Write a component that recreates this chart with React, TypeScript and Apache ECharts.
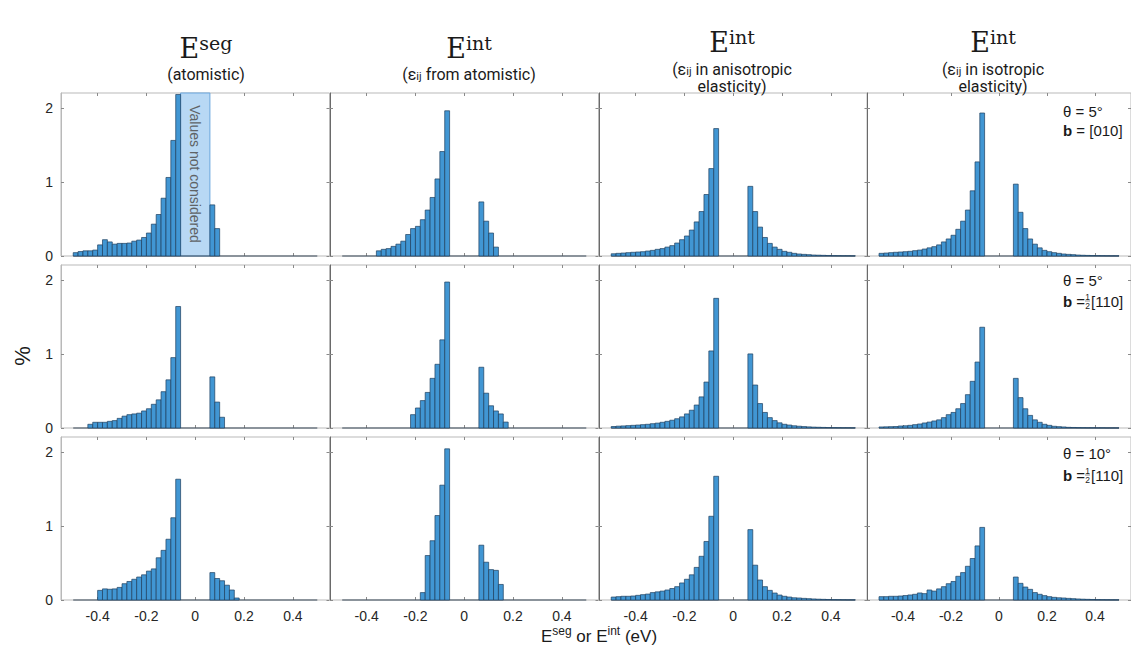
import React, { useEffect, useRef } from "react";
import * as echarts from "echarts";

// ---------- data (bin width 0.02 eV, values in %) ----------
const BIN = 0.02;
const RIGHT_START = 0.06;
const HIST_RANGE = [-0.5, 0.5];
const xTickValues = [-0.4, -0.2, 0, 0.2, 0.4];
const yTickValues = [0, 1, 2];
const excludedRange = [-0.06, 0.06];

const colTitles = ["E^seg", "E^int", "E^int", "E^int"];
const colSubtitles = [
  ["(atomistic)"],
  ["(ε_ij from atomistic)"],
  ["(ε_ij in anisotropic", "elasticity)"],
  ["(ε_ij in isotropic", "elasticity)"],
];
const rowThetas = ["θ = 5°", "θ = 5°", "θ = 10°"];
const rowBurgers = ["[010]", "[110]", "[110]"];
const rowBurgersHalf = [false, true, true];

// Row 1 : θ = 5°, b = [010]
const r1c1Start = -0.5;
const r1c1L = [0.045, 0.06, 0.07, 0.07, 0.08, 0.15, 0.22, 0.19, 0.16, 0.17, 0.17, 0.175, 0.2, 0.215, 0.25, 0.31, 0.43, 0.56, 0.78, 1.06, 1.56, 2.18];
const r1c1R = [0.69, 0.37];
const r1c2Start = -0.36;
const r1c2L = [0.07, 0.09, 0.1, 0.13, 0.16, 0.2, 0.29, 0.37, 0.4, 0.49, 0.62, 0.79, 1.04, 1.41, 1.96];
const r1c2R = [0.73, 0.47, 0.31, 0.12];
const r1c3Start = -0.5;
const r1c3L = [0.03, 0.036, 0.04, 0.045, 0.05, 0.054, 0.058, 0.067, 0.076, 0.09, 0.1, 0.12, 0.14, 0.175, 0.22, 0.27, 0.35, 0.46, 0.6, 0.83, 1.18, 1.72];
const r1c3R = [0.94, 0.6, 0.39, 0.25, 0.17, 0.12, 0.09, 0.063, 0.05, 0.036, 0.027, 0.022, 0.018, 0.013, 0.011, 0.009, 0.007, 0.005, 0.004, 0.003, 0.003, 0.002];
const r1c4Start = -0.5;
const r1c4L = [0.036, 0.04, 0.045, 0.05, 0.054, 0.058, 0.063, 0.072, 0.08, 0.094, 0.11, 0.126, 0.15, 0.19, 0.23, 0.28, 0.36, 0.47, 0.62, 0.88, 1.27, 1.93];
const r1c4R = [0.97, 0.59, 0.37, 0.23, 0.16, 0.11, 0.076, 0.058, 0.045, 0.036, 0.027, 0.022, 0.018, 0.013, 0.01, 0.008, 0.006, 0.005, 0.004, 0.003, 0.002, 0.002];

// Row 2 : θ = 5°, b = ½[110]
const r2c1Start = -0.44;
const r2c1L = [0.05, 0.077, 0.077, 0.077, 0.09, 0.1, 0.13, 0.16, 0.18, 0.19, 0.2, 0.23, 0.26, 0.32, 0.38, 0.49, 0.65, 0.95, 1.64];
const r2c1R = [0.69, 0.35, 0.145];
const r2c2Start = -0.22;
const r2c2L = [0.18, 0.27, 0.37, 0.48, 0.67, 0.86, 1.19, 1.97];
const r2c2R = [0.82, 0.47, 0.3, 0.23, 0.19, 0.08];
const r2c3Start = -0.5;
const r2c3L = [0.02, 0.025, 0.028, 0.032, 0.036, 0.04, 0.045, 0.05, 0.058, 0.066, 0.077, 0.09, 0.105, 0.125, 0.15, 0.19, 0.24, 0.31, 0.42, 0.62, 1.04, 1.75];
const r2c3R = [1.0, 0.58, 0.33, 0.21, 0.14, 0.1, 0.07, 0.05, 0.04, 0.03, 0.024, 0.019, 0.015, 0.012, 0.01, 0.008, 0.006, 0.005, 0.004, 0.003, 0.003, 0.002];
const r2c4Start = -0.5;
const r2c4L = [0.014, 0.016, 0.018, 0.02, 0.027, 0.03, 0.036, 0.045, 0.054, 0.068, 0.08, 0.095, 0.11, 0.14, 0.18, 0.21, 0.26, 0.33, 0.45, 0.63, 0.89, 1.36];
const r2c4R = [0.67, 0.41, 0.26, 0.17, 0.11, 0.077, 0.05, 0.036, 0.023, 0.018, 0.014, 0.009, 0.007, 0.005, 0.004, 0.003, 0.003, 0.002, 0.002, 0.001, 0.001, 0.001];

// Row 3 : θ = 10°, b = ½[110]
const r3c1Start = -0.4;
const r3c1L = [0.13, 0.15, 0.145, 0.15, 0.17, 0.22, 0.25, 0.28, 0.31, 0.34, 0.39, 0.42, 0.57, 0.67, 0.82, 1.11, 1.63];
const r3c1R = [0.37, 0.29, 0.26, 0.2, 0.135, 0.027];
const r3c2Start = -0.18;
const r3c2L = [0.1, 0.6, 0.8, 1.14, 1.55, 2.04];
const r3c2R = [0.74, 0.51, 0.41, 0.4, 0.21];
const r3c3Start = -0.5;
const r3c3L = [0.04, 0.045, 0.05, 0.05, 0.054, 0.063, 0.072, 0.08, 0.1, 0.11, 0.12, 0.135, 0.155, 0.18, 0.23, 0.28, 0.34, 0.44, 0.59, 0.79, 1.13, 1.67];
const r3c3R = [0.95, 0.47, 0.27, 0.18, 0.13, 0.094, 0.067, 0.05, 0.04, 0.03, 0.027, 0.022, 0.018, 0.014, 0.011, 0.009, 0.007, 0.005, 0.004, 0.003, 0.002, 0.002];
const r3c4Start = -0.5;
const r3c4L = [0.045, 0.045, 0.05, 0.05, 0.054, 0.06, 0.068, 0.077, 0.095, 0.086, 0.135, 0.12, 0.15, 0.18, 0.22, 0.25, 0.32, 0.37, 0.455, 0.56, 0.73, 0.98];
const r3c4R = [0.31, 0.225, 0.175, 0.144, 0.1, 0.077, 0.059, 0.045, 0.036, 0.03, 0.027, 0.022, 0.018, 0.014, 0.011, 0.009, 0.007, 0.005, 0.004, 0.003, 0.002, 0.002];

const panels = [
  { start: r1c1Start, left: r1c1L, right: r1c1R },
  { start: r1c2Start, left: r1c2L, right: r1c2R },
  { start: r1c3Start, left: r1c3L, right: r1c3R },
  { start: r1c4Start, left: r1c4L, right: r1c4R },
  { start: r2c1Start, left: r2c1L, right: r2c1R },
  { start: r2c2Start, left: r2c2L, right: r2c2R },
  { start: r2c3Start, left: r2c3L, right: r2c3R },
  { start: r2c4Start, left: r2c4L, right: r2c4R },
  { start: r3c1Start, left: r3c1L, right: r3c1R },
  { start: r3c2Start, left: r3c2L, right: r3c2R },
  { start: r3c3Start, left: r3c3L, right: r3c3R },
  { start: r3c4Start, left: r3c4L, right: r3c4R },
];

// ---------- layout ----------
const COL_LEFT = [61, 330, 599, 867];
const ROW_TOP = [93, 265, 437];
const PW = 268.5;
const PH = 163;
const X_MIN = -0.55;
const X_MAX = 0.55;
const Y_MAX = 2.2;

const BAR_FILL = "#4196d3";
const BAR_EDGE = "#1e3f5f";
const SANS = "Liberation Sans";
const SERIF = "DejaVu Serif";

const r4 = (v: number) => Math.round(v * 10000) / 10000;

function buildItems(p: { start: number; left: number[]; right: number[] }) {
  const items: number[][] = [[HIST_RANGE[0], HIST_RANGE[1], 0]];
  p.left.forEach((v, i) => items.push([r4(p.start + i * BIN), r4(p.start + (i + 1) * BIN), v]));
  p.right.forEach((v, i) => items.push([r4(RIGHT_START + i * BIN), r4(RIGHT_START + (i + 1) * BIN), v]));
  return items;
}

function renderHist(params: any, api: any) {
  const x0 = api.value(0);
  const x1 = api.value(1);
  const h = api.value(2);
  const a = api.coord([x0, h]);
  const b = api.coord([x1, 0]);
  if (h === 0) {
    return {
      type: "line",
      shape: { x1: a[0], y1: b[1], x2: b[0], y2: b[1] },
      style: { stroke: "#3a4a5a", lineWidth: 1 },
    };
  }
  return {
    type: "rect",
    shape: { x: a[0], y: a[1], width: b[0] - a[0], height: b[1] - a[1] },
    style: { fill: BAR_FILL, stroke: BAR_EDGE, lineWidth: 0.7 },
  };
}

function renderBox(params: any, api: any) {
  const a = api.coord([api.value(0), api.value(2)]);
  const b = api.coord([api.value(1), 0]);
  return {
    type: "rect",
    shape: { x: a[0], y: a[1], width: b[0] - a[0], height: b[1] - a[1] },
    style: { fill: "#b8d8f4", stroke: "#6aa6dd", lineWidth: 1 },
  };
}

function txt(x: number, y: number, style: any, extra: any = {}) {
  return {
    type: "text",
    x,
    y,
    z: 100,
    style: {
      align: "center",
      verticalAlign: "middle",
      textAlign: "center",
      textVerticalAlign: "middle",
      fill: "#1a1a1a",
      ...style,
    },
    ...extra,
  };
}

function buildOption() {
  const grid: any[] = [];
  const xAxis: any[] = [];
  const yAxis: any[] = [];
  const series: any[] = [];
  const tickStyle = { color: "#8a8a8a", width: 1 };
  const labelStyle = { fontSize: 14, color: "#262626", fontFamily: SANS };

  panels.forEach((p, k) => {
    const r = Math.floor(k / 4);
    const c = k % 4;
    grid.push({
      left: COL_LEFT[c],
      top: ROW_TOP[r],
      width: PW,
      height: PH,
      show: true,
      borderColor: "#b9b9b9",
      borderWidth: 1,
      containLabel: false,
    });
    xAxis.push({
      gridIndex: k,
      type: "value",
      position: "bottom",
      min: X_MIN,
      max: X_MAX,
      axisLine: { show: false, onZero: false },
      axisTick: { show: true, inside: true, length: 3, customValues: xTickValues, lineStyle: tickStyle },
      axisLabel: { show: r === 2, customValues: xTickValues, margin: 9, ...labelStyle },
      splitLine: { show: false },
    });
    xAxis.push({
      gridIndex: k,
      type: "value",
      position: "top",
      min: X_MIN,
      max: X_MAX,
      axisLine: { show: false, onZero: false },
      axisTick: { show: true, inside: true, length: 3, customValues: xTickValues, lineStyle: tickStyle },
      axisLabel: { show: false },
      splitLine: { show: false },
    });
    yAxis.push({
      gridIndex: k,
      type: "value",
      position: "left",
      min: 0,
      max: Y_MAX,
      axisLine: { show: true, onZero: false, lineStyle: { color: c === 0 ? "#b9b9b9" : "#6a6a6a", width: 1 } },
      axisTick: { show: true, inside: true, length: 3, customValues: yTickValues, lineStyle: tickStyle },
      axisLabel: { show: c === 0, customValues: yTickValues, margin: 8, ...labelStyle },
      splitLine: { show: false },
    });
    yAxis.push({
      gridIndex: k,
      type: "value",
      position: "right",
      min: 0,
      max: Y_MAX,
      axisLine: { show: false, onZero: false },
      axisTick: { show: true, inside: true, length: 3, customValues: yTickValues, lineStyle: tickStyle },
      axisLabel: { show: false },
      splitLine: { show: false },
    });
    if (k === 0) {
      series.push({
        type: "custom",
        xAxisIndex: 0,
        yAxisIndex: 0,
        silent: true,
        z: 1,
        renderItem: renderBox,
        encode: { x: [0, 1], y: 2 },
        data: [[excludedRange[0], excludedRange[1], Y_MAX]],
      });
    }
    series.push({
      type: "custom",
      xAxisIndex: 2 * k,
      yAxisIndex: 2 * k,
      silent: true,
      z: 2,
      renderItem: renderHist,
      encode: { x: [0, 1], y: 2 },
      data: buildItems(p),
    });
  });

  const graphic: any[] = [];
  const titleX = [206, 469, 732, 993];
  const titleY = [48, 48, 42, 42];
  const subY = [[74], [74], [69, 86], [69, 86]];
  colTitles.forEach((t, c) => {
    const [base, sup] = t.split("^");
    graphic.push(
      txt(titleX[c], titleY[c], {
        text: `{e|${base}}{s|${sup}}`,
        rich: {
          e: { fontSize: 27, fontFamily: SERIF, lineHeight: 30, fill: "#1a1a1a" },
          s: { fontSize: 19, fontFamily: SERIF, lineHeight: 20, verticalAlign: "top", fill: "#1a1a1a" },
        },
      })
    );
    colSubtitles[c].forEach((line, li) => {
      const parts = line.split("_ij");
      const text = parts.length > 1 ? `{m|${parts[0]}}{sub|ij}{m|${parts[1]}}` : `{m|${line}}`;
      graphic.push(
        txt(titleX[c], subY[c][li], {
          text,
          rich: {
            m: { fontSize: 16, fontFamily: "Roboto", lineHeight: 15, fill: "#1a1a1a" },
            sub: { fontSize: 11, fontFamily: "Roboto", lineHeight: 6, verticalAlign: "bottom", fill: "#1a1a1a" },
          },
        })
      );
    });
  });

  // Values not considered label
  const x0px = COL_LEFT[0] + (PW * (0 - X_MIN)) / (X_MAX - X_MIN);
  graphic.push(
    txt(x0px, ROW_TOP[0] + 81, { text: "Values not considered", fontSize: 14, fontFamily: SANS, fill: "#5f6366" }, { rotation: -Math.PI / 2 })
  );

  // per-row annotation
  const thetaY = [111, 280, 453];
  const bY = [130, 301, 475];
  const annX = 1063;
  rowThetas.forEach((t, r) => {
    graphic.push(txt(annX, thetaY[r], { text: t, fontSize: 15, fontFamily: SANS, align: "left", textAlign: "left" }));
    if (!rowBurgersHalf[r]) {
      graphic.push(
        txt(annX, bY[r], {
          text: `{b|b} = ${rowBurgers[r]}`,
          fontSize: 15,
          fontFamily: SANS,
          align: "left",
          textAlign: "left",
          rich: { b: { fontSize: 15, fontFamily: SANS, fontWeight: "bold" } },
        })
      );
    } else {
      graphic.push(
        txt(annX, bY[r], {
          text: `{b|b} =`,
          fontSize: 15,
          fontFamily: SANS,
          align: "left",
          textAlign: "left",
          rich: { b: { fontSize: 15, fontFamily: SANS, fontWeight: "bold" } },
        })
      );
      graphic.push(txt(1087.5, bY[r] - 4.5, { text: "1", fontSize: 8.5, fontFamily: SANS }));
      graphic.push(txt(1087.5, bY[r] + 4.5, { text: "2", fontSize: 8.5, fontFamily: SANS }));
      graphic.push({
        type: "line",
        z: 100,
        shape: { x1: 1085, y1: bY[r], x2: 1090, y2: bY[r] },
        style: { stroke: "#444", lineWidth: 0.6 },
      });
      graphic.push(txt(1091, bY[r], { text: rowBurgers[r], fontSize: 15, fontFamily: SANS, align: "left", textAlign: "left" }));
    }
  });

  // axis titles
  graphic.push(txt(22, 356, { text: "%", fontSize: 22, fontFamily: SANS }, { rotation: Math.PI / 2 }));
  graphic.push(
    txt(599, 636, {
      text: "{m|E}{s|seg}{m| or E}{s|int}{m| (eV)}",
      rich: {
        m: { fontSize: 17, fontFamily: SANS, lineHeight: 22, fill: "#1a1a1a" },
        s: { fontSize: 12, fontFamily: SANS, lineHeight: 16, verticalAlign: "top", fill: "#1a1a1a" },
      },
    })
  );

  return {
    animation: false,
    backgroundColor: "#ffffff",
    grid,
    xAxis,
    yAxis,
    series,
    graphic,
  };
}

export default function App() {
  const ref = useRef<HTMLDivElement>(null);
  useEffect(() => {
    if (!ref.current) return;
    const chart = echarts.init(ref.current, undefined, { renderer: "svg" });
    chart.setOption(buildOption() as any);
    return () => chart.dispose();
  }, []);
  return <div ref={ref} style={{ position: "absolute", left: 0, top: 0, width: 1131, height: 651 }} />;
}
